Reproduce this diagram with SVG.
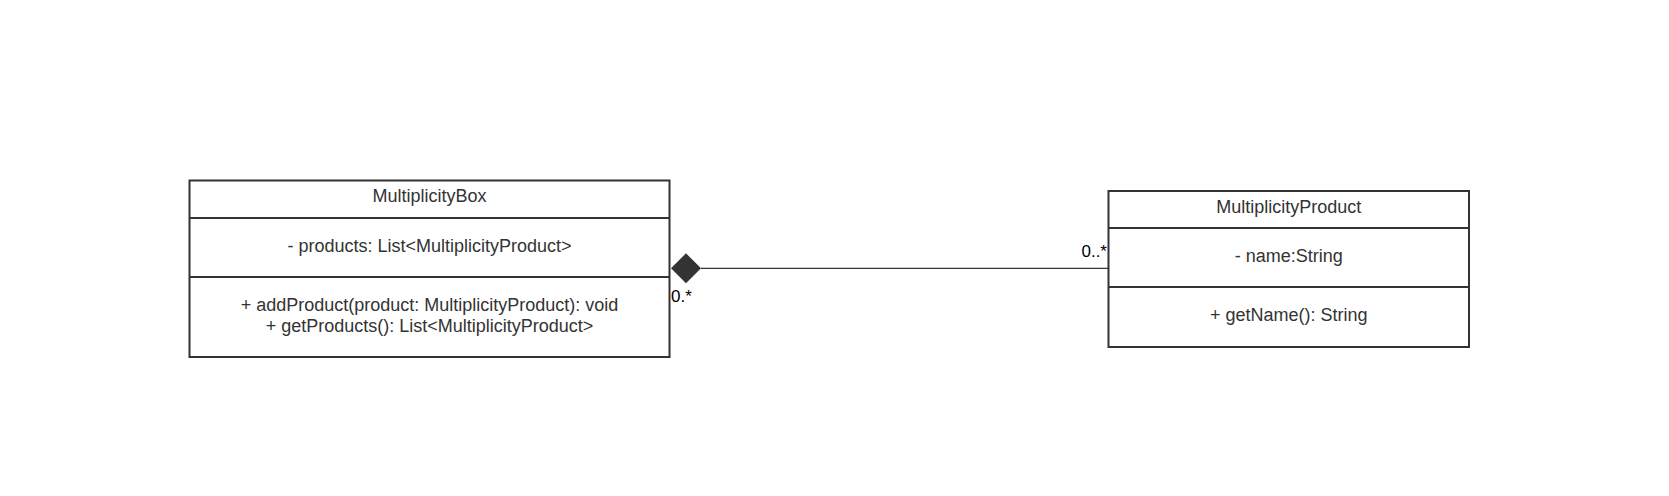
<svg xmlns="http://www.w3.org/2000/svg" width="1669" height="496" viewBox="0 0 1669 496">
<style>
.box{fill:#ffffff;stroke:#333333;stroke-width:2}
.sep{stroke:#333333;stroke-width:2}
.t{font-family:"Liberation Sans",Arial,sans-serif;font-size:18px;fill:#333333;text-anchor:middle}
.lbl{font-family:"Liberation Sans",Arial,sans-serif;font-size:17px;fill:#000000}
.conn{stroke:#333333;stroke-width:1.3;fill:none}
</style>
<rect width="1669" height="496" fill="#ffffff"/>
<g id="connectors">
<line class="conn" x1="701" y1="268.3" x2="1108.5" y2="268.3"/>
<polygon points="671,268.3 686,253.3 701,268.3 686,283.3" fill="#333333"/>
<text class="lbl" x="671" y="302">0.*</text>
<text class="lbl" x="1107" y="256.5" text-anchor="end">0..*</text>
</g>
<g id="MultiplicityBox">
<rect class="box" x="189.5" y="180.5" width="480" height="176.5"/>
<line class="sep" x1="189.5" y1="218" x2="669.5" y2="218"/>
<line class="sep" x1="189.5" y1="277" x2="669.5" y2="277"/>
<text class="t" x="429.5" y="202">MultiplicityBox</text>
<text class="t" x="429.5" y="251.5">- products: List&lt;MultiplicityProduct&gt;</text>
<text class="t" x="429.5" y="310.5">+ addProduct(product: MultiplicityProduct): void</text>
<text class="t" x="429.5" y="331.5">+ getProducts(): List&lt;MultiplicityProduct&gt;</text>
</g>
<g id="MultiplicityProduct">
<rect class="box" x="1108.5" y="191" width="360.5" height="156"/>
<line class="sep" x1="1108.5" y1="228" x2="1469" y2="228"/>
<line class="sep" x1="1108.5" y1="287" x2="1469" y2="287"/>
<text class="t" x="1288.75" y="212.5">MultiplicityProduct</text>
<text class="t" x="1288.75" y="262">- name:String</text>
<text class="t" x="1288.75" y="321">+ getName(): String</text>
</g>
</svg>
